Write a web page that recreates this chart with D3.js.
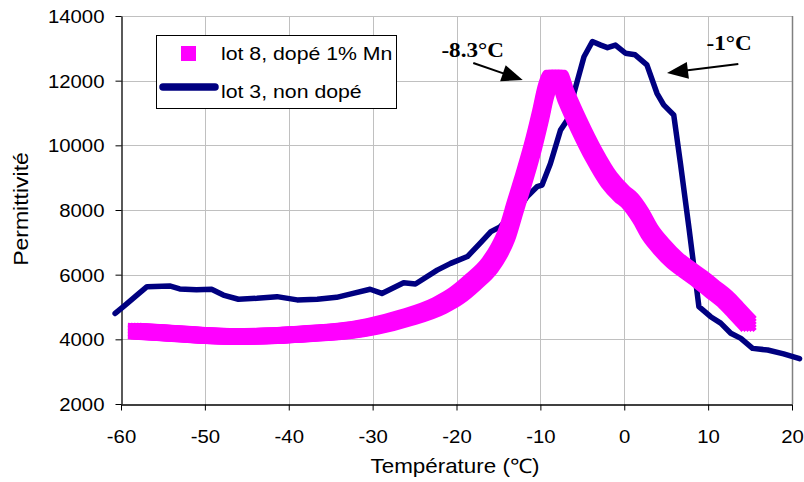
<!DOCTYPE html>
<html><head><meta charset="utf-8">
<script src="https://cdn.jsdelivr.net/npm/d3@7"></script>
<style>
body{margin:0;background:#fff}
svg{display:block}
text{font-family:"Liberation Sans",Arial,sans-serif;fill:#000}
</style></head>
<body><svg id="c" width="804" height="482"></svg>
<script>
const xTicks=[-60,-50,-40,-30,-20,-10,0,10,20];
const yTicks=[2000,4000,6000,8000,10000,12000,14000];
const seriesNames=["lot 8, dopé 1% Mn","lot 3, non dopé"];
const xTitle="Température (℃)";
const yTitle="Permittivité";
// lot 8 (doped, magenta markers)
const lot8T=[-58.2,-55,-50,-46,-42,-40,-36,-33,-30,-26,-22,-20,-18,-16,-15,-14,-13,-12,-11,-10,-9.3,-8.6,-7.8,-6.95,-5.4,-3.6,-1.8,-0.3,0.7,1.9,3.1,4.5,6.0,7.5,9.0,10.5,12.0,13.3,14.7];
const lot8V=[4250,4200,4120,4090,4110,4140,4200,4270,4400,4670,5050,5350,5780,6300,6700,7250,8100,8950,9850,10900,11700,12080,12080,11530,10630,9700,8930,8500,8280,7850,7300,6850,6450,6150,5870,5560,5250,4900,4510];
// lot 3 (undoped, navy line)
const lot3T=[-60.7,-59.5,-58.1,-56.9,-54.2,-53,-51,-49.2,-47.8,-46,-43.8,-41.4,-39,-36.6,-34.3,-32.7,-30.3,-28.9,-26.3,-24.9,-22.3,-20.7,-18.7,-17.2,-15.9,-14.8,-12.4,-11.6,-10.4,-9.8,-8.8,-7.6,-6.8,-6.0,-4.8,-3.8,-2.8,-2,-1.05,0.14,1.3,2.7,3.9,4.7,5.9,6.7,7.7,8.5,8.9,10.3,11.5,12.7,13.9,15.3,17.1,19.0,20.9];
const lot3V=[4800,5060,5370,5630,5650,5560,5530,5550,5370,5240,5270,5320,5220,5240,5300,5400,5550,5420,5750,5710,6140,6350,6560,6970,7330,7480,8100,8410,8720,8770,9440,10470,10780,11610,12740,13210,13100,13020,13100,12850,12800,12490,11610,11250,10940,9440,7480,5840,5010,4700,4500,4190,4030,3720,3670,3550,3400];
// annotations: label, label position, arrow tail, arrow tip (data coords)
const annLabels=["-8.3°C","-1°C"];
const annPos=[[-21.8,12740],[9.8,12950]];
const annTail=[[-18.0,12547],[13.6,12516]];
const annTip=[[-12.1,12020],[5.1,12238]];

const svg=d3.select("#c");
const x=d3.scaleLinear().domain([-60,20]).range([121,792]);
const y=d3.scaleLinear().domain([2000,14000]).range([404,16]);

function stext(g,txt,px,py,size,sx,anchor,rot){
  return g.append("text").text(txt)
    .attr("transform",`translate(${px},${py})${rot?` rotate(${rot})`:""} scale(${sx},1)`)
    .attr("font-size",size).attr("text-anchor",anchor||"start");
}

// grid
const grid=svg.append("g").attr("stroke","#c0c0c0").attr("stroke-width",1);
grid.selectAll("line.v").data(xTicks.slice(1,-1)).join("line")
  .attr("x1",d=>Math.round(x(d))+0.5).attr("x2",d=>Math.round(x(d))+0.5).attr("y1",y(14000)).attr("y2",y(2000));
grid.selectAll("line.h").data(yTicks.slice(1)).join("line")
  .attr("x1",x(-60)).attr("x2",x(20)).attr("y1",d=>Math.round(y(d))+0.5).attr("y2",d=>Math.round(y(d))+0.5);
svg.append("line").attr("x1",x(20)+0.5).attr("x2",x(20)+0.5).attr("y1",y(14000)).attr("y2",y(2000))
  .attr("stroke","#808080").attr("stroke-width",1.5);

// axes
const ax=svg.append("g").attr("transform",`translate(0,${Math.round(y(2000))+0.5})`)
  .call(d3.axisBottom(x).tickValues(xTicks).tickSize(6).tickSizeOuter(0).tickFormat(d3.format("d")));
const ay=svg.append("g").attr("transform",`translate(${Math.round(x(-60))+0.5},0)`)
  .call(d3.axisLeft(y).tickValues(yTicks).tickSize(6).tickSizeOuter(0).tickFormat(d3.format("d")));
[ax,ay].forEach(a=>{a.select(".domain").attr("stroke","#000").attr("stroke-width",1.3);
  a.selectAll(".tick line").attr("stroke","#000");
  a.selectAll(".tick text").remove();});
ax.selectAll(".tick").each(function(d){stext(d3.select(this),String(d),0,38,18.5,1.1,"middle");});
ay.selectAll(".tick").each(function(d){stext(d3.select(this),String(d),-17,6.5,18.5,1.1,"end");});

// titles
stext(svg,xTitle,455,473,20,1.12,"middle");
stext(svg,yTitle,28,209,20,1.15,"middle",-90);

const line=d3.line().x(d=>x(d[0])).y(d=>y(d[1]));
const lot3=lot3T.map((t,i)=>[t,lot3V[i]]);
const lot8=lot8T.map((t,i)=>[t,lot8V[i]]);

// navy line
svg.append("path").attr("d",line(lot3)).attr("fill","none").attr("stroke","#000080")
  .attr("stroke-width",5.5).attr("stroke-linejoin","round").attr("stroke-linecap","round");

// magenta square-marker band (path swept by a square marker)
const pg=svg.append("g");
const offs=[-6,-3,0,3,6];
const lot8Path=d3.line().x(d=>x(d[0])).y(d=>y(d[1])).curve(d3.curveMonotoneX)(lot8);
offs.forEach(dx=>offs.forEach(dy=>{
  pg.append("path").attr("d",lot8Path).attr("transform",`translate(${dx},${dy})`)
    .attr("fill","none").attr("stroke","#ff00ff").attr("stroke-width",4.5)
    .attr("stroke-linejoin","round").attr("stroke-linecap","square");
}));

// annotations
annLabels.forEach((lab,i)=>{
  const x1=x(annTail[i][0]),y1=y(annTail[i][1]),x2=x(annTip[i][0]),y2=y(annTip[i][1]);
  const L=Math.hypot(x2-x1,y2-y1),ux=(x2-x1)/L,uy=(y2-y1)/L;
  const hl=21,hw=8.5;
  const bx=x2-ux*hl,by=y2-uy*hl;
  svg.append("line").attr("x1",x1).attr("y1",y1).attr("x2",bx+ux*2).attr("y2",by+uy*2)
    .attr("stroke","#000").attr("stroke-width",2);
  svg.append("path").attr("d",`M${x2},${y2}L${bx-uy*hw},${by+ux*hw}L${bx+uy*hw},${by-ux*hw}Z`).attr("fill","#000");
  stext(svg,lab,x(annPos[i][0]),y(annPos[i][1]),22,1.05,"start")
    .style("font-family","'Liberation Serif','Times New Roman',serif").attr("font-weight","bold");
});

// legend
const lg=svg.append("g");
lg.append("rect").attr("x",156.5).attr("y",35.5).attr("width",240).attr("height",73)
  .attr("fill","#fff").attr("stroke","#000").attr("stroke-width",1);
lg.append("rect").attr("x",181).attr("y",46).attr("width",15).attr("height",15).attr("fill","#ff00ff");
lg.append("line").attr("x1",163).attr("x2",215).attr("y1",87).attr("y2",87)
  .attr("stroke","#000080").attr("stroke-width",7.5).attr("stroke-linecap","round");
stext(lg,seriesNames[0],221,60,19,1.12,"start");
stext(lg,seriesNames[1],221,97.5,19,1.12,"start");
</script></body></html>
